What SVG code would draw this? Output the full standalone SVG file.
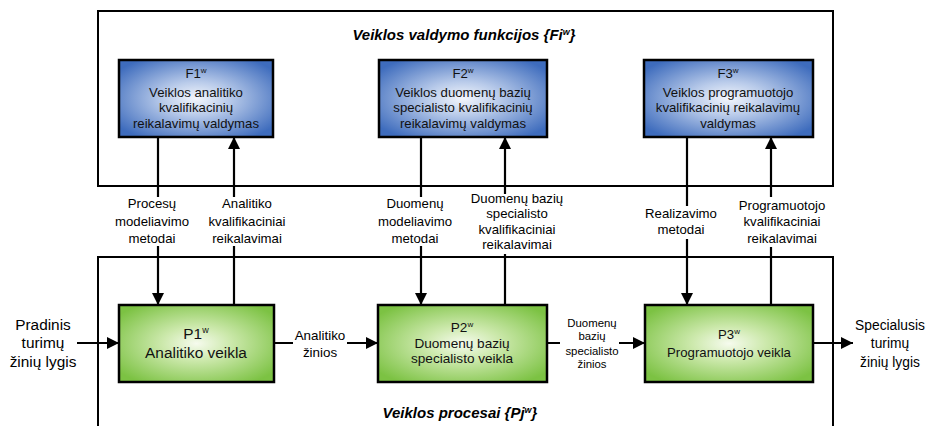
<svg xmlns="http://www.w3.org/2000/svg" width="929" height="426" viewBox="0 0 929 426">
<defs>
<radialGradient id="gb" cx="50%" cy="50%" r="62%">
<stop offset="0" stop-color="#f3f6fc"/>
<stop offset="0.35" stop-color="#b9cbea"/>
<stop offset="1" stop-color="#3e6cbd"/>
</radialGradient>
<radialGradient id="gg" cx="50%" cy="50%" r="62%">
<stop offset="0" stop-color="#f6fbee"/>
<stop offset="0.35" stop-color="#cde9ad"/>
<stop offset="1" stop-color="#7cc243"/>
</radialGradient>
<marker id="ah" viewBox="0 0 12 12" refX="12" refY="6" markerWidth="12" markerHeight="12" markerUnits="userSpaceOnUse" orient="auto">
<path d="M0,0 L12,6 L0,12 Z" fill="#000"/>
</marker>
</defs>
<style>
text{font-family:"Liberation Sans",Arial,sans-serif;fill:#000;text-anchor:middle}
.cont{fill:#fff;stroke:#000;stroke-width:2}
.fb{fill:url(#gb);stroke:#000;stroke-width:2.5}
.pb{fill:url(#gg);stroke:#000;stroke-width:2.5}
.bt{font-size:13.2px;fill:#111}
.ttl{font-size:15px;font-weight:bold;font-style:italic}
.ln{stroke:#000;stroke-width:2.2;fill:none}
.ar{stroke:#000;stroke-width:2.2;fill:none;marker-end:url(#ah)}
.lb{font-size:13.2px}
.sm{font-size:11.4px}
.wb{fill:#fff}
</style>
<rect width="929" height="426" fill="#fff"/>
<g id="containers">
<rect class="cont" x="98" y="11" width="735" height="175"/>
<rect class="cont" x="98" y="257" width="735" height="200"/>
<text class="ttl" x="464" y="40">Veiklos valdymo funkcijos {Fi<tspan dy="-5" font-size="9">w</tspan><tspan dy="5">}</tspan></text>
<text class="ttl" x="460" y="418">Veiklos procesai {Pj<tspan dy="-5" font-size="9">w</tspan><tspan dy="5">}</tspan></text>
</g>
<g id="connectors">
<path class="ar" d="M158,137 V305"/>
<path class="ar" d="M234,305 V137"/>
<path class="ar" d="M421,137 V305"/>
<path class="ar" d="M505,305 V137"/>
<path class="ar" d="M687,137 V305"/>
<path class="ar" d="M771,305 V137"/>
<path class="ar" d="M77,343 H119"/>
<path class="ar" d="M274,343 H378"/>
<path class="ar" d="M547,343 H645"/>
<path class="ar" d="M813,343 H853"/>
</g>
<g id="labels">
<rect class="wb" x="112" y="197" width="82" height="49"/>
<text class="lb" x="152" y="208">Procesų</text>
<text class="lb" x="152" y="226">modeliavimo</text>
<text class="lb" x="152" y="243">metodai</text>
<rect class="wb" x="205" y="197" width="84" height="49"/>
<text class="lb" x="247" y="208">Analitiko</text>
<text class="lb" x="247" y="226">kvalifikaciniai</text>
<text class="lb" x="247" y="243">reikalavimai</text>
<rect class="wb" x="375" y="197" width="80" height="49"/>
<text class="lb" x="415" y="208">Duomenų</text>
<text class="lb" x="415" y="226">modeliavimo</text>
<text class="lb" x="415" y="243">metodai</text>
<rect class="wb" x="468" y="194" width="98" height="60"/>
<text class="lb" x="517" y="203">Duomenų bazių</text>
<text class="lb" x="517" y="218">specialisto</text>
<text class="lb" x="517" y="234">kvalifikaciniai</text>
<text class="lb" x="517" y="249">reikalavimai</text>
<rect class="wb" x="643" y="206" width="76" height="33"/>
<text class="lb" x="681" y="218">Realizavimo</text>
<text class="lb" x="681" y="234">metodai</text>
<rect class="wb" x="738" y="197" width="88" height="50"/>
<text class="lb" x="782" y="210">Programuotojo</text>
<text class="lb" x="782" y="226">kvalifikaciniai</text>
<text class="lb" x="782" y="243">reikalavimai</text>
<rect class="wb" x="293" y="325" width="54" height="36"/>
<text class="lb" x="320" y="340" style="font-size:13.4px">Analitiko</text>
<text class="lb" x="320" y="357" style="font-size:13.4px">žinios</text>
<rect class="wb" x="560" y="315" width="59" height="58"/>
<text class="sm" x="592" y="327">Duomenų</text>
<text class="sm" x="592" y="340">bazių</text>
<text class="sm" x="592" y="355">specialisto</text>
<text class="sm" x="592" y="368">žinios</text>
<text x="43" y="330" style="font-size:15.4px">Pradinis</text>
<text x="43" y="348" style="font-size:15.4px">turimų</text>
<text x="43" y="367" style="font-size:15.4px">žinių lygis</text>
<text x="890" y="330" style="font-size:13.8px">Specialusis</text>
<text x="890" y="348" style="font-size:13.8px">turimų</text>
<text x="890" y="367" style="font-size:13.8px">žinių lygis</text>
</g>
<g id="F1">
<rect class="fb" x="119" y="60" width="154" height="77"/>
<text class="bt" x="196" y="78">F1<tspan dy="-5" font-size="8">w</tspan></text>
<text class="bt" x="196" y="97">Veiklos analitiko</text>
<text class="bt" x="196" y="112">kvalifikacinių</text>
<text class="bt" x="196" y="128">reikalavimų valdymas</text>
</g>
<g id="F2">
<rect class="fb" x="379" y="60" width="168" height="77"/>
<text class="bt" x="463" y="78">F2<tspan dy="-5" font-size="8">w</tspan></text>
<text class="bt" x="463" y="97">Veiklos duomenų bazių</text>
<text class="bt" x="463" y="112">specialisto kvalifikacinių</text>
<text class="bt" x="463" y="128">reikalavimų valdymas</text>
</g>
<g id="F3">
<rect class="fb" x="644" y="60" width="169" height="77"/>
<text class="bt" x="728" y="78">F3<tspan dy="-5" font-size="8">w</tspan></text>
<text class="bt" x="728" y="97">Veiklos programuotojo</text>
<text class="bt" x="728" y="112">kvalifikacinių reikalavimų</text>
<text class="bt" x="728" y="128">valdymas</text>
</g>
<g id="P1">
<rect class="pb" x="119" y="305" width="155" height="77"/>
<text class="bt" x="196" y="339" style="font-size:15.4px">P1<tspan dy="-6" font-size="9">w</tspan></text>
<text class="bt" x="196" y="358" style="font-size:15.4px">Analitiko veikla</text>
</g>
<g id="P2">
<rect class="pb" x="378" y="305" width="169" height="77"/>
<text class="bt" x="462" y="332" style="font-size:13.6px">P2<tspan dy="-5" font-size="8">w</tspan></text>
<text class="bt" x="462" y="348" style="font-size:13.6px">Duomenų bazių</text>
<text class="bt" x="462" y="363" style="font-size:13.6px">specialisto veikla</text>
</g>
<g id="P3">
<rect class="pb" x="645" y="305" width="168" height="77"/>
<text class="bt" x="729" y="339">P3<tspan dy="-5" font-size="8">w</tspan></text>
<text class="bt" x="729" y="357">Programuotojo veikla</text>
</g>
</svg>
